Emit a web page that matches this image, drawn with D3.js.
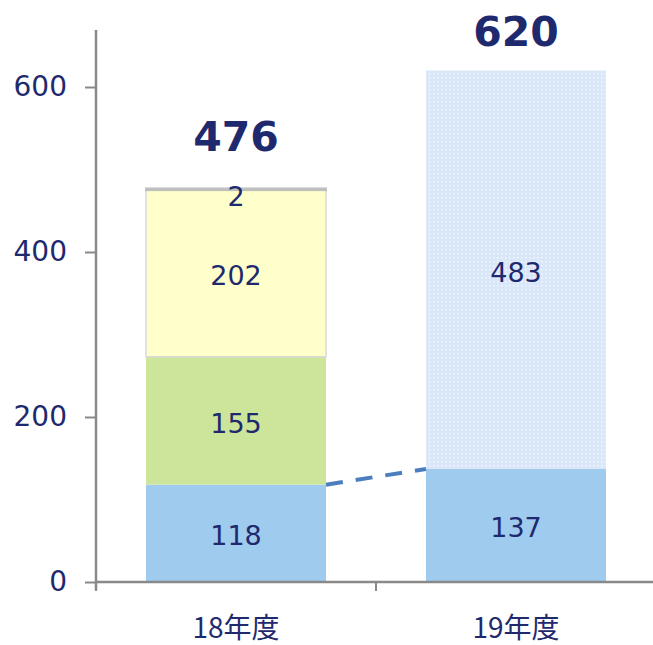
<!DOCTYPE html>
<html>
<head>
<meta charset="utf-8">
<script src="https://cdn.jsdelivr.net/npm/d3@7"></script>
<style>
  body { margin: 0; background: #fff; }
  svg { display: block; }
</style>
</head>
<body>
<svg></svg>
<script>
// data
const years = ["18年度", "19年度"];
const seriesNames = ["base", "green", "yellow", "gray", "pattern"];
const baseVals = [118, 137];
const greenVals = [155, 0];
const yellowVals = [202, 0];
const grayVals = [2, 0];
const patternVals = [0, 483];
const totals = [476, 620];
const yTicks = [0, 200, 400, 600];

const width = 653;
const height = 645;
const svg = d3.select("svg").attr("width", width).attr("height", height);

const x0 = 96, x1 = 656;
const y0 = 582, yTop = 30;
const navy = "#1F2A6E";
const font = "'DejaVu Sans', Verdana, sans-serif";

const xScale = d3.scaleBand().domain(years).range([x0, x1]).paddingInner(0).paddingOuter(0);
const yScale = d3.scaleLinear().domain([0, 600]).range([y0, y0 - 495]);
const barW = 180;
const barX = d => xScale(d) + (xScale.bandwidth() - barW) / 2;

// dotted fill for the 19 bar upper block
const defs = svg.append("defs");
const pat = defs.append("pattern")
  .attr("id", "dots")
  .attr("patternUnits", "userSpaceOnUse")
  .attr("width", 4).attr("height", 4);
pat.append("rect").attr("width", 4).attr("height", 4).attr("fill", "#DAE7F9");
pat.append("rect").attr("x", 1).attr("y", 1).attr("width", 1.5).attr("height", 1.5).attr("fill", "#F2F7FD");

const table = years.map((y, i) => ({
  year: y, base: baseVals[i], green: greenVals[i], yellow: yellowVals[i],
  gray: grayVals[i], pattern: patternVals[i]
}));
const stacked = d3.stack().keys(seriesNames)(table);

const fills = {
  base: "#9FCBEF",
  green: "#CDE59B",
  yellow: "#FFFFCC",
  gray: "#BFBFBF",
  pattern: "url(#dots)"
};
const strokes = { yellow: "#D9D9D9", gray: "#BFBFBF" };

stacked.forEach(s => {
  svg.selectAll(".bar-" + s.key)
    .data(s.filter(d => d[1] - d[0] > 0))
    .enter().append("rect")
    .attr("class", "bar-" + s.key)
    .attr("x", d => barX(d.data.year))
    .attr("y", d => yScale(d[1]))
    .attr("width", barW)
    .attr("height", d => yScale(d[0]) - yScale(d[1]))
    .attr("fill", fills[s.key])
    .attr("stroke", strokes[s.key] || "none")
    .attr("stroke-width", s.key === "gray" ? 2 : 1.5);
});

// value labels inside segments
const labelKeys = ["base", "green", "yellow", "pattern"];
stacked.filter(s => labelKeys.includes(s.key)).forEach(s => {
  svg.selectAll(".lbl-" + s.key)
    .data(s.filter(d => d[1] - d[0] > 0))
    .enter().append("text")
    .attr("x", d => barX(d.data.year) + barW / 2)
    .attr("y", d => (yScale(d[0]) + yScale(d[1])) / 2 + 12)
    .attr("text-anchor", "middle")
    .attr("font-family", font)
    .attr("font-size", 27)
    .attr("fill", navy)
    .text(d => d[1] - d[0]);
});

// small "2" label just under the gray cap
const graySeries = stacked.find(s => s.key === "gray");
svg.selectAll(".lbl-gray")
  .data(graySeries.filter(d => d[1] - d[0] > 0))
  .enter().append("text")
  .attr("x", d => barX(d.data.year) + barW / 2)
  .attr("y", d => yScale(d[1]) + 18)
  .attr("text-anchor", "middle")
  .attr("font-family", font)
  .attr("font-size", 27)
  .attr("fill", navy)
  .text(d => d[1] - d[0]);

// totals (kept inside the top of the plot)
svg.selectAll(".total")
  .data(years)
  .enter().append("text")
  .attr("x", d => barX(d) + barW / 2)
  .attr("y", (d, i) => Math.max(yScale(totals[i]) - 38, 46))
  .attr("text-anchor", "middle")
  .attr("font-family", font)
  .attr("font-size", 41)
  .attr("font-weight", "bold")
  .attr("fill", navy)
  .text((d, i) => totals[i]);

// dashed connector between base segments
svg.append("line")
  .attr("x1", barX(years[0]) + barW)
  .attr("y1", yScale(baseVals[0]))
  .attr("x2", barX(years[1]))
  .attr("y2", yScale(baseVals[1]))
  .attr("stroke", "#4A7EBE")
  .attr("stroke-width", 4)
  .attr("stroke-dasharray", "17,13");

// y axis
const yAxis = svg.append("g")
  .attr("transform", `translate(${x0},0)`)
  .call(d3.axisLeft(yScale).tickValues(yTicks).tickSize(11).tickPadding(18));
yAxis.select(".domain").remove();
yAxis.append("line")
  .attr("x1", 0).attr("x2", 0).attr("y1", yTop).attr("y2", y0 + 8)
  .attr("stroke", "#898989").attr("stroke-width", 2.5);
yAxis.selectAll(".tick line").attr("stroke", "#898989").attr("stroke-width", 2);
yAxis.selectAll(".tick text")
  .attr("font-family", font).attr("font-size", 28).attr("fill", navy);

// x axis
const xg = svg.append("g");
xg.append("line")
  .attr("x1", x0).attr("x2", width).attr("y1", y0).attr("y2", y0)
  .attr("stroke", "#898989").attr("stroke-width", 2.5);
xg.selectAll(".xtick")
  .data([x0, xScale(years[1])])
  .enter().append("line")
  .attr("x1", d => d).attr("x2", d => d)
  .attr("y1", y0).attr("y2", y0 + 9)
  .attr("stroke", "#898989").attr("stroke-width", 2);
xg.selectAll(".xlabel")
  .data(years)
  .enter().append("text")
  .attr("x", d => xScale(d) + xScale.bandwidth() / 2)
  .attr("y", 638)
  .attr("text-anchor", "middle")
  .attr("font-family", "'Noto Sans CJK JP', sans-serif")
  .attr("font-size", 28)
  .attr("fill", navy)
  .text(d => d);
</script>
</body>
</html>
